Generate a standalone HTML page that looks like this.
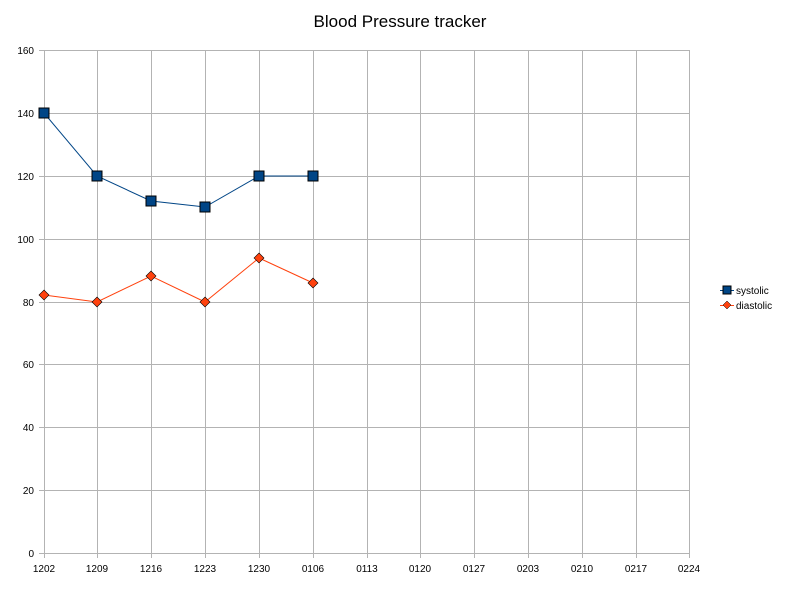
<!DOCTYPE html>
<html><head><meta charset="utf-8"><style>body{margin:0;background:#fff}svg{display:block}text{font-family:"Liberation Sans",sans-serif}</style></head><body>
<svg width="800" height="600" xmlns="http://www.w3.org/2000/svg">
<rect width="800" height="600" fill="#fff"/>
<text x="400" y="27" font-size="17" text-anchor="middle">Blood Pressure tracker</text>
<g stroke="#b3b3b3" stroke-width="1" shape-rendering="crispEdges">
<line x1="39" y1="50.5" x2="689" y2="50.5"/><line x1="39" y1="113.5" x2="689" y2="113.5"/>
<line x1="39" y1="176.5" x2="689" y2="176.5"/><line x1="39" y1="239.5" x2="689" y2="239.5"/>
<line x1="39" y1="302.5" x2="689" y2="302.5"/><line x1="39" y1="364.5" x2="689" y2="364.5"/>
<line x1="39" y1="427.5" x2="689" y2="427.5"/><line x1="39" y1="490.5" x2="689" y2="490.5"/>
<line x1="39" y1="553.5" x2="689" y2="553.5"/>
<line x1="44.5" y1="50" x2="44.5" y2="558"/><line x1="97.5" y1="50" x2="97.5" y2="558"/>
<line x1="151.5" y1="50" x2="151.5" y2="558"/><line x1="205.5" y1="50" x2="205.5" y2="558"/>
<line x1="259.5" y1="50" x2="259.5" y2="558"/><line x1="313.5" y1="50" x2="313.5" y2="558"/>
<line x1="367.5" y1="50" x2="367.5" y2="558"/><line x1="420.5" y1="50" x2="420.5" y2="558"/>
<line x1="474.5" y1="50" x2="474.5" y2="558"/><line x1="528.5" y1="50" x2="528.5" y2="558"/>
<line x1="582.5" y1="50" x2="582.5" y2="558"/><line x1="636.5" y1="50" x2="636.5" y2="558"/>
<line x1="689.5" y1="50" x2="689.5" y2="558"/>
</g>
<g font-size="10" text-anchor="end">
<text x="34" y="54">160</text><text x="34" y="117">140</text><text x="34" y="180">120</text>
<text x="34" y="243">100</text><text x="34" y="306">80</text><text x="34" y="368">60</text>
<text x="34" y="431">40</text><text x="34" y="494">20</text><text x="34" y="557">0</text>
</g>
<g font-size="10" text-anchor="middle">
<text x="44" y="572">1202</text><text x="97" y="572">1209</text><text x="151" y="572">1216</text>
<text x="205" y="572">1223</text><text x="259" y="572">1230</text><text x="313" y="572">0106</text>
<text x="367" y="572">0113</text><text x="420" y="572">0120</text><text x="474" y="572">0127</text>
<text x="528" y="572">0203</text><text x="582" y="572">0210</text><text x="636" y="572">0217</text>
<text x="689" y="572">0224</text>
</g>
<polyline points="44,113 97,176 151,201 205,207 259,176 313,176" fill="none" stroke="#004586" stroke-width="1"/>
<g fill="#004586" stroke="#000" stroke-width="1">
<rect x="39" y="108" width="10" height="10"/><rect x="92" y="171" width="10" height="10"/>
<rect x="146" y="196" width="10" height="10"/><rect x="200" y="202" width="10" height="10"/>
<rect x="254" y="171" width="10" height="10"/><rect x="308" y="171" width="10" height="10"/>
</g>
<polyline points="44,295 97,302 151,276 205,302 259,258 313,283" fill="none" stroke="#ff420e" stroke-width="1"/>
<g fill="#ff420e" stroke="#000" stroke-width="0.6">
<path d="M44,290 l5,5 l-5,5 l-5,-5z"/><path d="M97,297 l5,5 l-5,5 l-5,-5z"/>
<path d="M151,271 l5,5 l-5,5 l-5,-5z"/><path d="M205,297 l5,5 l-5,5 l-5,-5z"/>
<path d="M259,253 l5,5 l-5,5 l-5,-5z"/><path d="M313,278 l5,5 l-5,5 l-5,-5z"/>
</g>
<line x1="720" y1="290.5" x2="734" y2="290.5" stroke="#004586"/>
<rect x="723" y="286" width="8" height="8" fill="#004586" stroke="#000"/>
<text x="736" y="294" font-size="10">systolic</text>
<line x1="720" y1="305.5" x2="734" y2="305.5" stroke="#ff420e"/>
<path d="M727,301 l4,4 l-4,4 l-4,-4z" fill="#ff420e" stroke="#000" stroke-width="0.5"/>
<text x="736" y="309" font-size="10">diastolic</text>
</svg>
</body></html>
